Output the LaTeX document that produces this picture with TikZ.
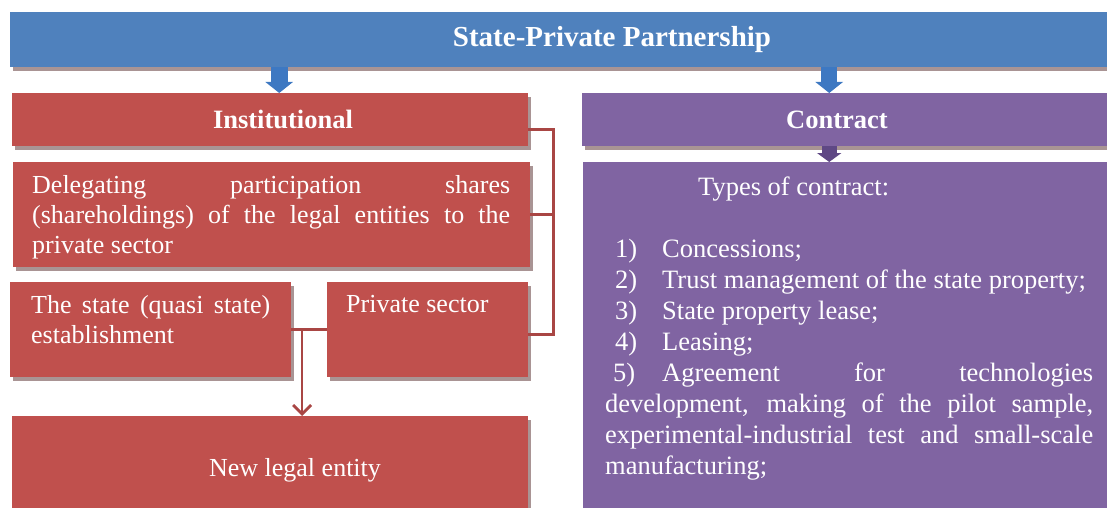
\documentclass[tikz,border=0pt]{standalone}
\usepackage{fontspec}
\setmainfont{Liberation Serif}
\usetikzlibrary{arrows.meta,calc,shadows}

\definecolor{ppblue}{HTML}{4F81BD}
\definecolor{ppred}{HTML}{C0504D}
\definecolor{ppviolet}{HTML}{8064A2}
\definecolor{ppshade}{HTML}{A99494}
\definecolor{arrblue}{HTML}{3D78C2}
\definecolor{arrviolet}{HTML}{5F4885}

\tolerance=10000
\hyphenpenalty=10000
\exhyphenpenalty=10000

\tikzset{
	panel/.style={inner sep=0pt, anchor=north west,
		drop shadow={shadow xshift=3pt, shadow yshift=-4pt, fill=ppshade, opacity=1}},
	bodytext/.style={text=white, inner sep=0pt, font=\fontsize{26}{30}\selectfont},
	headtext/.style={text=white, inner sep=0pt, font=\bfseries\fontsize{26.5}{30}\selectfont},
	link/.style={draw=ppred!88!black, line width=2.8pt},
}

\begin{document}
\begin{tikzpicture}[x=1pt,y=-1pt]

\useasboundingbox (0,0) rectangle (1107,508);
\clip (0,0) rectangle (1107,508);

\node[panel, fill=ppblue, minimum width=1110pt, minimum height=55pt] (ttl) at (10,12) {};
\node[panel, fill=ppred, minimum width=516pt, minimum height=53pt] (inst) at (12,93) {};
\node[panel, fill=ppviolet, minimum width=540pt, minimum height=53pt] (cont) at (582,93) {};
\node[panel, fill=ppred, minimum width=517pt, minimum height=105pt] (deleg) at (13,162) {};
\node[panel, fill=ppviolet, minimum width=540pt, minimum height=360pt] (types) at (583,162) {};
\node[panel, fill=ppred, minimum width=281pt, minimum height=95pt] (state) at (10,282) {};
\node[panel, fill=ppred, minimum width=201pt, minimum height=95pt] (priv) at (327,282) {};
\node[panel, fill=ppred, minimum width=516pt, minimum height=110pt] (newe) at (12,416) {};

\node[headtext, font=\bfseries\fontsize{29}{32}\selectfont] (ttltxt) at (612,40) {State-Private Partnership};
\node[headtext] (insttxt) at (283,119.5) {Institutional};
\node[headtext] (conttxt) at (837,119.5) {Contract};

\node[bodytext, text width=478pt, align=justify, anchor=north west] (delegtxt) at (32,175)
	{Delegating participation shares\linebreak (shareholdings) of the legal entities to the\linebreak private sector};
\node[bodytext, text width=239pt, align=justify, anchor=north west] (statetxt) at (31,295)
	{The state (quasi state)\linebreak establishment};
\node[bodytext, anchor=north west] (privtxt) at (346,295) {Private sector};
\node[bodytext] (newtxt) at (295,470) {New legal entity};

\node[bodytext, font=\fontsize{26.5}{31}\selectfont, text width=488pt, align=justify, anchor=north west] (typetxt) at (605,177) {%
	\hspace*{93pt}Types of contract:\par\vspace{31pt}
	\hspace*{10pt}\makebox[47pt][l]{1)}Concessions;\par
	\hspace*{10pt}\makebox[47pt][l]{2)}Trust management of the state property;\par
	\hspace*{10pt}\makebox[47pt][l]{3)}State property lease;\par
	\hspace*{10pt}\makebox[47pt][l]{4)}Leasing;\par
	\hspace*{8pt}\makebox[49pt][l]{5)}Agreement for technologies\linebreak
	development, making of the pilot sample,\linebreak
	experimental-industrial test and small-scale\linebreak
	manufacturing;};

\draw[line width=17pt, arrblue, -{Triangle[length=11pt,width=27pt]}]
	([xshift=9pt]inst.north |- ttl.south) -- ([xshift=9pt]inst.north);
\draw[line width=16pt, arrblue, -{Triangle[length=11pt,width=27pt]}]
	([xshift=-23pt]cont.north |- ttl.south) -- ([xshift=-23pt]cont.north);
\draw[line width=15pt, arrviolet, -{Triangle[length=9pt,width=24pt]}]
	([xshift=-23pt]cont.south) -- ([xshift=-23pt]cont.south |- types.north);

\coordinate (brk) at ([xshift=23pt]deleg.east);
\draw[link] ([yshift=-10pt]inst.east) -| (brk) |- ([yshift=-5pt]priv.east);
\draw[link] (deleg.east) -- (brk);

\coordinate (jn) at ($(state.east)!0.3!(priv.west)$);
\draw[link] (state.east) -- (priv.west);
\draw[link, -{Straight Barb[length=9pt,width=18pt]}] (jn) -- (jn |- newe.north);

\end{tikzpicture}
\end{document}
